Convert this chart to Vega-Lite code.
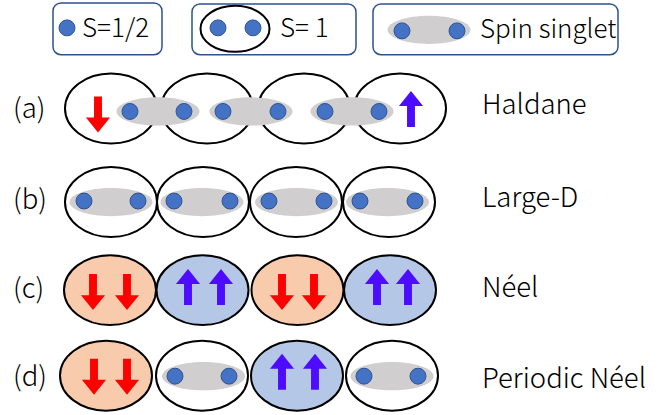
{
  "$schema": "https://vega.github.io/schema/vega-lite/v6.json",
  "width": 670,
  "height": 415,
  "autosize": {"type": "fit", "contains": "padding"},
  "padding": 0,
  "background": "white",
  "config": {"view": {"stroke": null}},
  "datasets": {
    "boxes": [
      {"x1": 53, "x2": 162, "y1": 3, "y2": 55},
      {"x1": 192, "x2": 356, "y1": 4, "y2": 55},
      {"x1": 373, "x2": 618, "y1": 4, "y2": 55}
    ],
    "sites": [
      {"x": 111, "y": 109, "state": "none"},
      {"x": 207, "y": 109, "state": "none"},
      {"x": 304, "y": 109, "state": "none"},
      {"x": 400, "y": 109, "state": "none"},
      {"x": 111, "y": 203, "state": "none"},
      {"x": 203, "y": 203, "state": "none"},
      {"x": 296, "y": 203, "state": "none"},
      {"x": 389, "y": 203, "state": "none"},
      {"x": 110, "y": 291.5, "state": "down"},
      {"x": 202.5, "y": 291.5, "state": "up"},
      {"x": 297.5, "y": 291.5, "state": "down"},
      {"x": 390, "y": 291.5, "state": "up"},
      {"x": 106, "y": 377.5, "state": "down"},
      {"x": 202, "y": 377.5, "state": "none"},
      {"x": 297, "y": 377.5, "state": "up"},
      {"x": 392, "y": 377.5, "state": "none"}
    ],
    "legendSite": [{"x": 235, "y": 29}],
    "singlets": [
      {"x": 158, "y": 112},
      {"x": 251, "y": 112},
      {"x": 352, "y": 112},
      {"x": 111, "y": 203},
      {"x": 202, "y": 203},
      {"x": 296.5, "y": 203},
      {"x": 387.5, "y": 203},
      {"x": 203.5, "y": 378},
      {"x": 392, "y": 378},
      {"x": 429, "y": 30}
    ],
    "spins": [
      {"x": 67, "y": 28}, {"x": 218, "y": 28}, {"x": 253, "y": 28},
      {"x": 402, "y": 31}, {"x": 457, "y": 31},
      {"x": 130, "y": 112}, {"x": 184, "y": 112}, {"x": 223, "y": 112},
      {"x": 278, "y": 112}, {"x": 325, "y": 112}, {"x": 379, "y": 112},
      {"x": 84, "y": 202}, {"x": 138, "y": 202}, {"x": 174, "y": 202}, {"x": 230, "y": 202},
      {"x": 269, "y": 202}, {"x": 324, "y": 202}, {"x": 360, "y": 202}, {"x": 415, "y": 202},
      {"x": 175, "y": 378}, {"x": 229, "y": 378}, {"x": 364, "y": 378}, {"x": 418, "y": 378}
    ],
    "arrows": [
      {"x": 98, "y": 115, "dir": "down"},
      {"x": 411, "y": 109.5, "dir": "up"},
      {"x": 93, "y": 293.5, "dir": "down"},
      {"x": 127, "y": 293.5, "dir": "down"},
      {"x": 188, "y": 288.5, "dir": "up"},
      {"x": 221, "y": 288.5, "dir": "up"},
      {"x": 282, "y": 293.5, "dir": "down"},
      {"x": 314, "y": 293.5, "dir": "down"},
      {"x": 377, "y": 288.5, "dir": "up"},
      {"x": 408, "y": 288.5, "dir": "up"},
      {"x": 94, "y": 378.5, "dir": "down"},
      {"x": 127, "y": 378.5, "dir": "down"},
      {"x": 282, "y": 373.5, "dir": "up"},
      {"x": 315, "y": 373.5, "dir": "up"}
    ],
    "legendLabels": [
      {"x": 82, "y": 29, "text": "S=1/2"},
      {"x": 280, "y": 29, "text": "S= 1"},
      {"x": 480, "y": 30, "text": "Spin singlet"}
    ],
    "labels": [
      {"x": 13, "y": 111, "text": "(a)"},
      {"x": 13, "y": 202, "text": "(b)"},
      {"x": 13, "y": 291, "text": "(c)"},
      {"x": 13, "y": 380, "text": "(d)"},
      {"x": 482, "y": 107, "text": "Haldane"},
      {"x": 482, "y": 200, "text": "Large-D"},
      {"x": 482, "y": 290, "text": "Néel"},
      {"x": 482, "y": 382, "text": "Periodic Néel"}
    ]
  },
  "layer": [
    {
      "data": {"name": "boxes"},
      "mark": {"type": "rect", "fill": "white", "stroke": "#2f528f", "strokeWidth": 1.5, "cornerRadius": 8},
      "encoding": {
        "x": {"field": "x1", "type": "quantitative", "scale": {"domain": [0, 670], "nice": false, "zero": false}, "axis": null},
        "x2": {"field": "x2"},
        "y": {"field": "y1", "type": "quantitative", "scale": {"domain": [0, 415], "nice": false, "zero": false, "reverse": true}, "axis": null},
        "y2": {"field": "y2"}
      }
    },
    {
      "data": {"name": "sites"},
      "mark": {"type": "point", "filled": true, "opacity": 1, "stroke": "black", "strokeWidth": 2, "size": 8464,
        "shape": "M 1 0 C 1 0.42 0.552 0.76 0 0.76 C -0.552 0.76 -1 0.42 -1 0 C -1 -0.42 -0.552 -0.76 0 -0.76 C 0.552 -0.76 1 -0.42 1 0 Z"},
      "encoding": {
        "x": {"field": "x", "type": "quantitative"},
        "y": {"field": "y", "type": "quantitative"},
        "fill": {"field": "state", "type": "nominal", "legend": null,
          "scale": {"domain": ["none", "down", "up"], "range": ["white", "#f8cbad", "#b4c7e7"]}}
      }
    },
    {
      "data": {"name": "legendSite"},
      "mark": {"type": "point", "filled": true, "opacity": 1, "fill": "white", "stroke": "black", "strokeWidth": 2, "size": 4761,
        "shape": "M 1 0 C 1 0.368 0.552 0.667 0 0.667 C -0.552 0.667 -1 0.368 -1 0 C -1 -0.368 -0.552 -0.667 0 -0.667 C 0.552 -0.667 1 -0.368 1 0 Z"},
      "encoding": {
        "x": {"field": "x", "type": "quantitative"},
        "y": {"field": "y", "type": "quantitative"}
      }
    },
    {
      "data": {"name": "singlets"},
      "mark": {"type": "point", "filled": true, "opacity": 1, "fill": "#d0cece", "size": 6889,
        "shape": "M 1 0 C 1 0.188 0.552 0.34 0 0.34 C -0.552 0.34 -1 0.188 -1 0 C -1 -0.188 -0.552 -0.34 0 -0.34 C 0.552 -0.34 1 -0.188 1 0 Z"},
      "encoding": {
        "x": {"field": "x", "type": "quantitative"},
        "y": {"field": "y", "type": "quantitative"}
      }
    },
    {
      "data": {"name": "spins"},
      "mark": {"type": "point", "shape": "circle", "filled": true, "opacity": 1, "fill": "#4472c4", "stroke": "#2f528f", "strokeWidth": 1, "size": 254},
      "encoding": {
        "x": {"field": "x", "type": "quantitative"},
        "y": {"field": "y", "type": "quantitative"}
      }
    },
    {
      "data": {"name": "arrows"},
      "transform": [{"filter": "datum.dir === 'down'"}],
      "mark": {"type": "point", "filled": true, "opacity": 1, "fill": "#ff0000", "size": 1296,
        "shape": "M -0.22 -1 L 0.22 -1 L 0.22 0.17 L 0.67 0.17 L 0 1 L -0.67 0.17 L -0.22 0.17 Z"},
      "encoding": {
        "x": {"field": "x", "type": "quantitative"},
        "y": {"field": "y", "type": "quantitative"}
      }
    },
    {
      "data": {"name": "arrows"},
      "transform": [{"filter": "datum.dir === 'up'"}],
      "mark": {"type": "point", "filled": true, "opacity": 1, "fill": "#4d0cff", "size": 1296,
        "shape": "M -0.22 1 L 0.22 1 L 0.22 -0.17 L 0.67 -0.17 L 0 -1 L -0.67 -0.17 L -0.22 -0.17 Z"},
      "encoding": {
        "x": {"field": "x", "type": "quantitative"},
        "y": {"field": "y", "type": "quantitative"}
      }
    },
    {
      "data": {"name": "legendLabels"},
      "mark": {"type": "text", "align": "left", "baseline": "middle", "font": "Noto Sans CJK SC", "fontWeight": 300, "fontSize": 26, "fill": "#000000"},
      "encoding": {
        "x": {"field": "x", "type": "quantitative"},
        "y": {"field": "y", "type": "quantitative"},
        "text": {"field": "text", "type": "nominal"}
      }
    },
    {
      "data": {"name": "labels"},
      "mark": {"type": "text", "align": "left", "baseline": "middle", "font": "Noto Sans CJK SC", "fontWeight": 300, "fontSize": 27.5, "fill": "#000000"},
      "encoding": {
        "x": {"field": "x", "type": "quantitative"},
        "y": {"field": "y", "type": "quantitative"},
        "text": {"field": "text", "type": "nominal"}
      }
    }
  ]
}
